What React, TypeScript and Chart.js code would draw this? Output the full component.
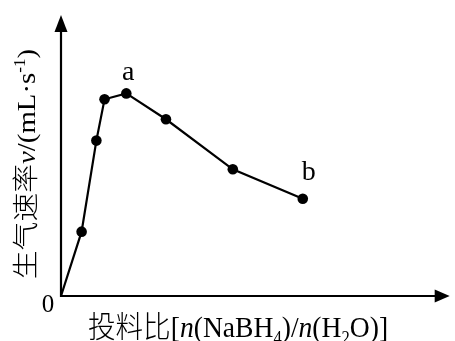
import React, { useEffect, useRef } from "react";
import { Chart, registerables } from "chart.js";

Chart.register(...registerables);

// Feed ratio (x, arbitrary units) and gas generation rate (y, arbitrary units)
const ratio = [0, 0.53, 0.91, 1.12, 1.68, 2.7, 4.42, 6.22];
const rate = [0, 2.29, 5.53, 7.0, 7.21, 6.29, 4.51, 3.46];
const pointLabels = ["", "", "", "", "a", "", "", "b"];
const originLabel = "0";

type Seg = { t: string; i?: boolean; sub?: boolean; sup?: boolean; cjk?: boolean };

const xTitle: Seg[] = [
  { t: "投料比", cjk: true },
  { t: "[" },
  { t: "n", i: true },
  { t: "(NaBH" },
  { t: "4", sub: true },
  { t: ")/" },
  { t: "n", i: true },
  { t: "(H" },
  { t: "2", sub: true },
  { t: "O)]" },
];

const yTitle: Seg[] = [
  { t: "生气速率", cjk: true },
  { t: "v", i: true },
  { t: "/(mL·s" },
  { t: "-1", sup: true },
  { t: ")" },
];

function fontFor(seg: Seg, size: number) {
  const s = seg.sub || seg.sup ? size * 0.6 : size;
  if (seg.cjk) return `300 ${s}px "Noto Sans CJK SC"`;
  return `${seg.i ? "italic " : ""}${s}px "Liberation Serif"`;
}

function drawRich(ctx: CanvasRenderingContext2D, segs: Seg[], size: number) {
  ctx.textAlign = "left";
  ctx.textBaseline = "alphabetic";
  let total = 0;
  const widths = segs.map((s) => {
    ctx.font = fontFor(s, size);
    const w = ctx.measureText(s.t).width;
    total += w;
    return w;
  });
  let x = -total / 2;
  segs.forEach((s, k) => {
    ctx.font = fontFor(s, size);
    let dy = 0;
    if (s.sub) dy = size * 0.22;
    if (s.sup) dy = -size * 0.38;
    ctx.fillText(s.t, x, dy);
    x += widths[k];
  });
}

const decorations = {
  id: "decorations",
  afterDraw(chart: any) {
    const ctx: CanvasRenderingContext2D = chart.ctx;
    const { left, right, top, bottom } = chart.chartArea;
    const xs = chart.scales.x;
    const ys = chart.scales.y;
    ctx.save();
    ctx.strokeStyle = "#000";
    ctx.fillStyle = "#000";
    ctx.lineWidth = 2.2;
    // x axis
    ctx.beginPath();
    ctx.moveTo(left, bottom);
    ctx.lineTo(right - 12, bottom);
    ctx.stroke();
    ctx.beginPath();
    ctx.moveTo(right, bottom);
    ctx.lineTo(right - 15, bottom - 6.5);
    ctx.lineTo(right - 15, bottom + 6.5);
    ctx.closePath();
    ctx.fill();
    // y axis
    ctx.beginPath();
    ctx.moveTo(left, bottom + 1);
    ctx.lineTo(left, top + 12);
    ctx.stroke();
    ctx.beginPath();
    ctx.moveTo(left, top);
    ctx.lineTo(left - 6.5, top + 17);
    ctx.lineTo(left + 6.5, top + 17);
    ctx.closePath();
    ctx.fill();

    // origin label
    ctx.font = `25px "Liberation Serif"`;
    ctx.textAlign = "center";
    ctx.textBaseline = "alphabetic";
    ctx.fillText(originLabel, xs.getPixelForValue(0) - 13, ys.getPixelForValue(0) + 16);

    // point labels
    ctx.font = `28px "Liberation Serif"`;
    pointLabels.forEach((lab, i) => {
      if (!lab) return;
      const px = xs.getPixelForValue(ratio[i]);
      const py = ys.getPixelForValue(rate[i]);
      if (i === pointLabels.length - 1) ctx.fillText(lab, px + 6, py - 19);
      else ctx.fillText(lab, px + 2, py - 13);
    });

    // x title
    ctx.save();
    ctx.translate(238, 337);
    ctx.scale(0.92, 1);
    drawRich(ctx, xTitle, 30);
    ctx.restore();

    // y title
    ctx.save();
    ctx.translate(35, 164);
    ctx.rotate(-Math.PI / 2);
    ctx.scale(0.96, 0.87);
    drawRich(ctx, yTitle, 30);
    ctx.restore();

    ctx.restore();
  },
};

export default function App() {
  const ref = useRef<HTMLCanvasElement>(null);
  useEffect(() => {
    if (!ref.current) return;
    const chart = new Chart(ref.current, {
      type: "line",
      data: {
        datasets: [
          {
            data: ratio.map((x, i) => ({ x, y: rate[i] })),
            borderColor: "#000",
            borderWidth: 2.2,
            backgroundColor: "#000",
            pointBackgroundColor: "#000",
            pointBorderColor: "#000",
            pointRadius: ratio.map((_, i) => (i === 0 ? 0 : 5.3)),
            pointBorderWidth: 0,
            tension: 0,
            clip: false as any,
          },
        ],
      },
      options: {
        responsive: false,
        animation: false,
        layout: { padding: { left: 61, top: 15, right: 0, bottom: 45 } },
        plugins: { legend: { display: false }, tooltip: { enabled: false } },
        scales: {
          x: { type: "linear", min: 0, max: 10, display: false },
          y: { type: "linear", min: 0, max: 10, display: false },
        },
      },
      plugins: [decorations],
    });
    return () => chart.destroy();
  }, []);
  return (
    <div style={{ position: "fixed", left: 0, top: 0, width: 455, height: 341, background: "#fff" }}>
      <canvas ref={ref} width={455} height={341} style={{ width: 455, height: 341 }} />
    </div>
  );
}
